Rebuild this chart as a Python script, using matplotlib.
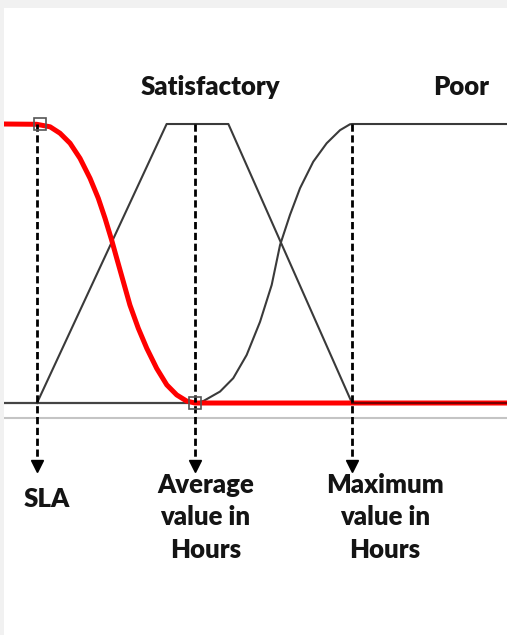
import numpy as np
import matplotlib
matplotlib.use("Agg")
import matplotlib.pyplot as plt

# x in "hours" units: SLA = 1, average = 2, maximum = 3 ; y = membership 0..1
good_x = [0.79, 0.998, 1.083, 1.146, 1.210, 1.273, 1.337, 1.389, 1.432, 1.474, 1.506, 1.548,
          1.590, 1.643, 1.697, 1.760, 1.824, 1.887, 1.950, 2.003, 3.99]
good_y = [1.0, 0.999, 0.990, 0.967, 0.931, 0.877, 0.805, 0.734, 0.662, 0.584, 0.519, 0.435,
          0.351, 0.268, 0.196, 0.124, 0.065, 0.029, 0.007, 0.0, 0.0]

sat_x = [1.0, 1.823, 2.215, 3.0]
sat_y = [0.0, 1.0, 1.0, 0.0]

poor_x = [2.003, 2.056, 2.162, 2.246, 2.331, 2.416, 2.490, 2.543, 2.606, 2.670, 2.754, 2.839,
          2.924, 2.987, 3.0, 3.99]
poor_y = [0.0, 0.007, 0.041, 0.089, 0.172, 0.291, 0.423, 0.566, 0.674, 0.770, 0.865, 0.931,
          0.978, 0.999, 1.0, 1.0]

marks_x = [1.0, 2.0, 3.0]
marks_labels = ["SLA", "Average\nvalue in\nHours", "Maximum\nvalue in\nHours"]
set_labels = ["Satisfactory", "Poor"]
set_label_x = [2.1, 3.69]

fig = plt.figure(figsize=(5.07, 6.35), dpi=100, facecolor="#f1f1f1")
ax = fig.add_axes([4 / 507, 0, 503 / 507, 627 / 635])
ax.set_facecolor("white")
ax.set_xlim(0.7905, 3.984)
ax.set_ylim(-0.8315, 1.4158)
for s in ax.spines.values():
    s.set_visible(False)
ax.set_xticks([])
ax.set_yticks([])

font = dict(family=["Lato", "DejaVu Sans"], fontweight="heavy", color="#141414")

# light axis line under the plot
ax.plot([0.79, 3.984], [-0.054, -0.054], color="#c4c4c4", lw=1.5, zorder=1)
# baseline
ax.plot([0.79, 3.99], [0, 0], color="#444444", lw=1.6, zorder=2)

ax.plot(sat_x, sat_y, color="#3a3a3a", lw=1.5, zorder=3)
ax.plot(poor_x, poor_y, color="#3a3a3a", lw=1.5, zorder=3)
ax.plot(good_x, good_y, color="#ff0000", lw=3.6, zorder=4, solid_capstyle="butt",
        solid_joinstyle="round")
ax.plot([3.0, 3.99], [0, 0], color="#7a0000", lw=1.5, zorder=5)

# dashed drop lines with arrow heads
for x in marks_x:
    ax.plot([x, x], [1.0, -0.215], color="black", lw=2.0, dashes=(2.6, 1.3), zorder=6)
    ax.plot([x], [-0.225], marker="v", color="black", markersize=8, zorder=6)

# small square markers
ax.plot([1.02], [1.0], marker="s", markersize=9, markerfacecolor="none",
        markeredgecolor="#555555", markeredgewidth=1.2, zorder=7)
ax.plot([2.0], [0.0], marker="s", markersize=9, markerfacecolor="none",
        markeredgecolor="#555555", markeredgewidth=1.2, zorder=7)

for lx, lab in zip(set_label_x, set_labels):
    ax.text(lx, 1.133, lab, ha="center", va="center", fontsize=18.5, **font)

ax.text(1.06, -0.344, marks_labels[0], ha="center", va="center", fontsize=18.5, **font)
ax.text(2.07, -0.41, marks_labels[1], ha="center", va="center", fontsize=18.5, linespacing=1.44, **font)
ax.text(3.21, -0.41, marks_labels[2], ha="center", va="center", fontsize=18.5, linespacing=1.44, **font)

fig.savefig("out.png", dpi=100, facecolor=fig.get_facecolor())
